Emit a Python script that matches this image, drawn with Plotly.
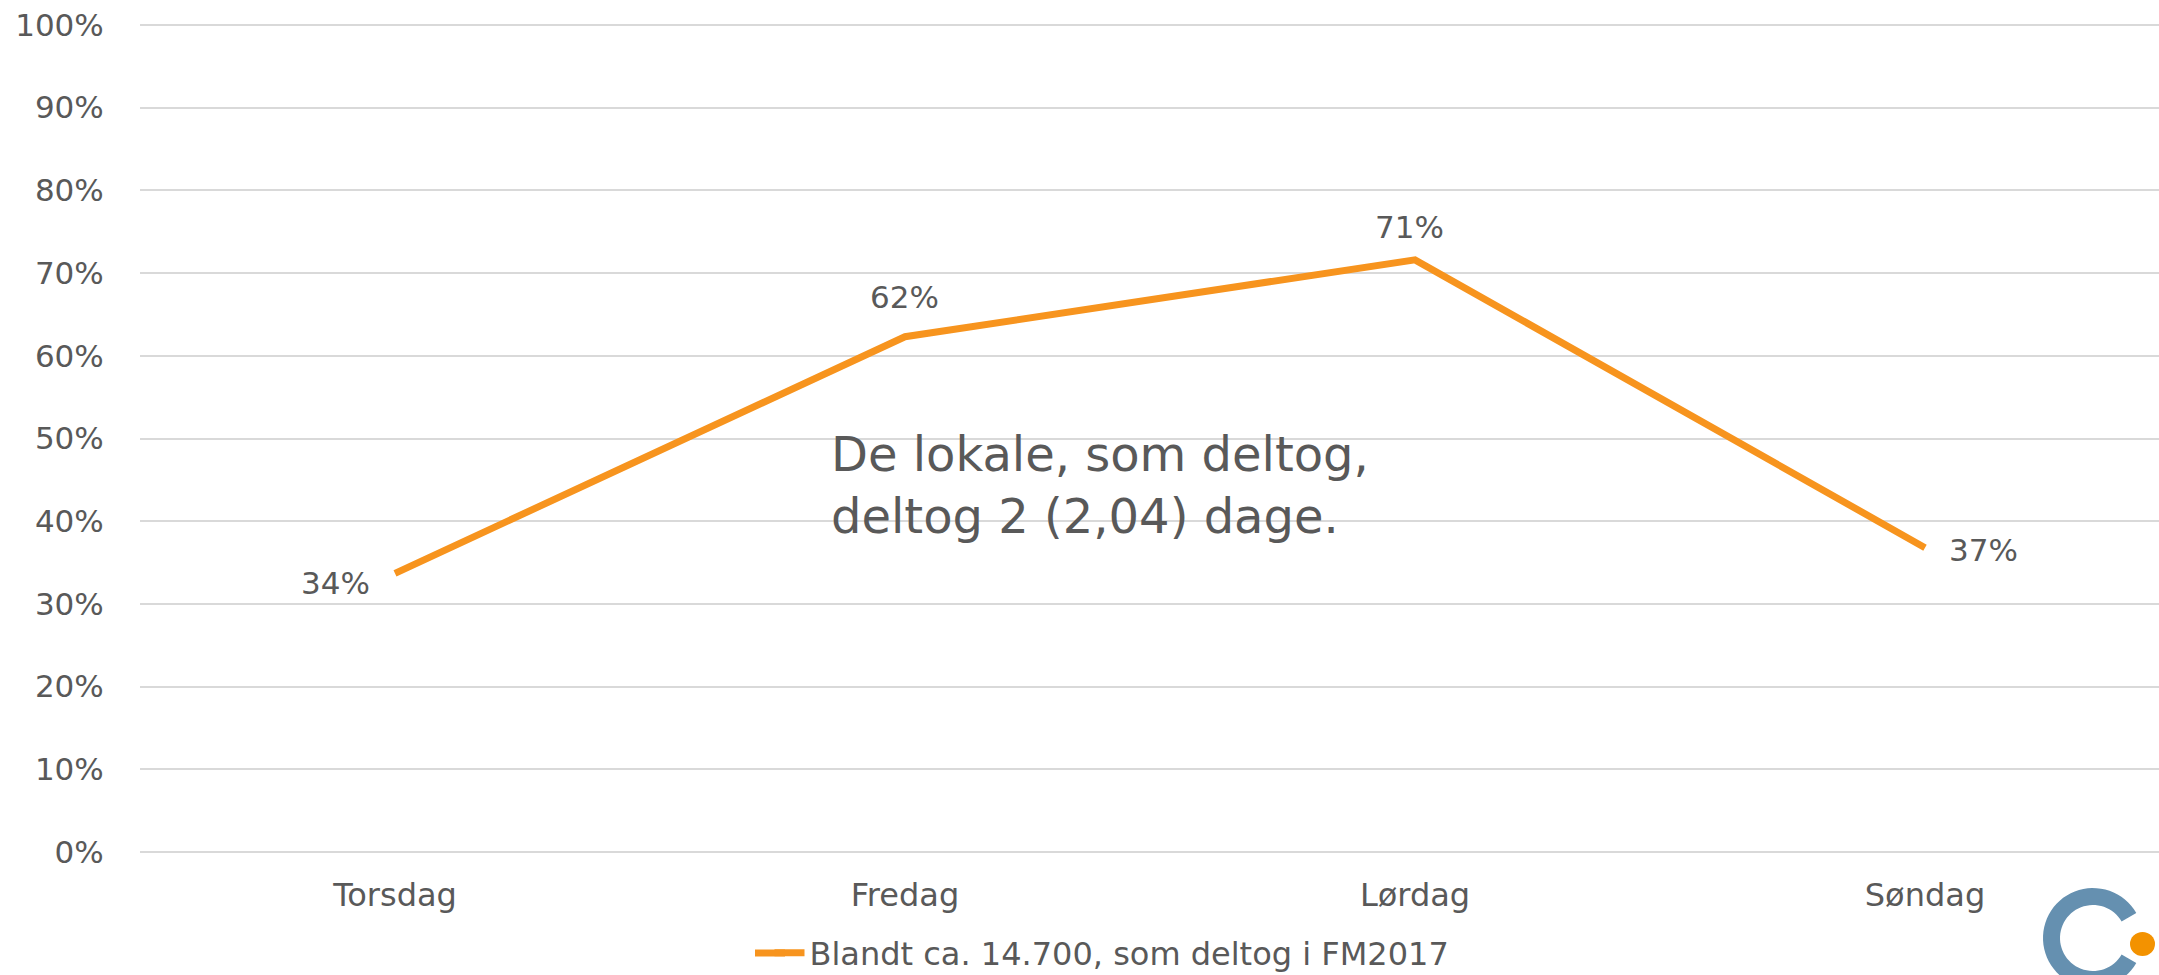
import numpy as np
import plotly.graph_objects as go

categories = ["Torsdag", "Fredag", "Lørdag", "Søndag"]
values = [0.337, 0.623, 0.716, 0.368]
value_labels = ["34%", "62%", "71%", "37%"]
series_name = "Blandt ca. 14.700, som deltog i FM2017"
note_text = "De lokale, som deltog,<br>deltog 2 (2,04) dage."
y_tickvals = [0, 0.1, 0.2, 0.3, 0.4, 0.5, 0.6, 0.7, 0.8, 0.9, 1.0]
y_ticktext = ["0%", "10%", "20%", "30%", "40%", "50%", "60%", "70%", "80%", "90%", "100%"]

# label offsets (pixels) relative to each point
label_dx = [-60, -1, -6, 58]
label_dy = [-10, 40, 33, -2]

W, H = 2159, 975
ML, MR, MT, MB = 140, 0, 15, 113
PW, PH = W - ML - MR, H - MT - MB
YLO, YHI = -0.012, 1.012
BAND = 510

FONT = "DejaVu Sans"
TEXT = "#595959"
ORANGE = "#F7941E"

def px2paper(px, py):
    return (px - ML) / PW, (H - MB - py) / PH

fig = go.Figure()
fig.add_trace(go.Scatter(
    x=categories, y=values, mode="lines", name=series_name,
    line=dict(color=ORANGE, width=7), hoverinfo="skip",
))

for c, v, t, dx, dy in zip(categories, values, value_labels, label_dx, label_dy):
    fig.add_annotation(x=c, y=v, text=t, showarrow=False, xshift=dx, yshift=dy,
                       xanchor="center", yanchor="middle",
                       font=dict(family=FONT, size=31, color=TEXT))

ax, ay = px2paper(829, 485)
fig.add_annotation(xref="paper", yref="paper", x=ax, y=ay,
                   text=note_text, showarrow=False, xanchor="left", yanchor="middle",
                   align="left", font=dict(family=FONT, size=48, color=TEXT))

# logo (decoration)
cx, cy, ro, ri = 2093, 938, 50, 33
ang = np.linspace(np.deg2rad(30), np.deg2rad(330), 60)
outer = [(cx + ro * np.cos(a), cy - ro * np.sin(a)) for a in ang]
inner = [(cx + ri * np.cos(a), cy - ri * np.sin(a)) for a in ang[::-1]]
pts = [px2paper(*p) for p in outer + inner]
path = "M " + " L ".join(f"{x:.5f},{y:.5f}" for x, y in pts) + " Z"
fig.add_shape(type="path", xref="paper", yref="paper", path=path,
              fillcolor="#6590B0", line=dict(width=0), layer="above")
d0 = px2paper(2130, 932)
d1 = px2paper(2155, 956)
fig.add_shape(type="circle", xref="paper", yref="paper", x0=d0[0], y0=d0[1], x1=d1[0], y1=d1[1],
              fillcolor="#F39200", line=dict(width=0), layer="above")

# longer legend key line (extends plotly's 30px legend symbol to the left)
k0 = px2paper(755, 953)
k1 = px2paper(785, 953)
fig.add_shape(type="line", xref="paper", yref="paper", x0=k0[0], y0=k0[1], x1=k1[0], y1=k1[1],
              line=dict(color=ORANGE, width=7))

lx, ly = px2paper(1112, 953)
fig.update_layout(
    width=W, height=H,
    margin=dict(l=ML, r=MR, t=MT, b=MB, autoexpand=False),
    paper_bgcolor="white", plot_bgcolor="white",
    showlegend=True,
    legend=dict(orientation="h", x=lx, y=ly, xanchor="center", yanchor="middle",
                font=dict(family=FONT, size=32, color=TEXT),
                itemwidth=30, bgcolor="rgba(0,0,0,0)"),
    xaxis=dict(
        type="category", range=[-0.5, -0.5 + PW / BAND], showgrid=False, zeroline=False,
        showline=False, ticks="outside", ticklen=5, tickcolor="rgba(0,0,0,0)",
        tickfont=dict(family=FONT, size=32, color=TEXT), automargin=False,
    ),
    yaxis=dict(
        range=[YLO, YHI], tickvals=y_tickvals, ticktext=y_ticktext,
        showgrid=True, gridcolor="#D9D9D9", gridwidth=2, zeroline=False, showline=False,
        ticks="outside", ticklen=29, tickcolor="rgba(0,0,0,0)",
        tickfont=dict(family=FONT, size=31, color=TEXT), automargin=False,
    ),
)

fig.write_html(
    "out.html",
    config={"displayModeBar": False},
    post_script="document.body.style.margin='0';document.body.style.overflow='hidden';",
)
